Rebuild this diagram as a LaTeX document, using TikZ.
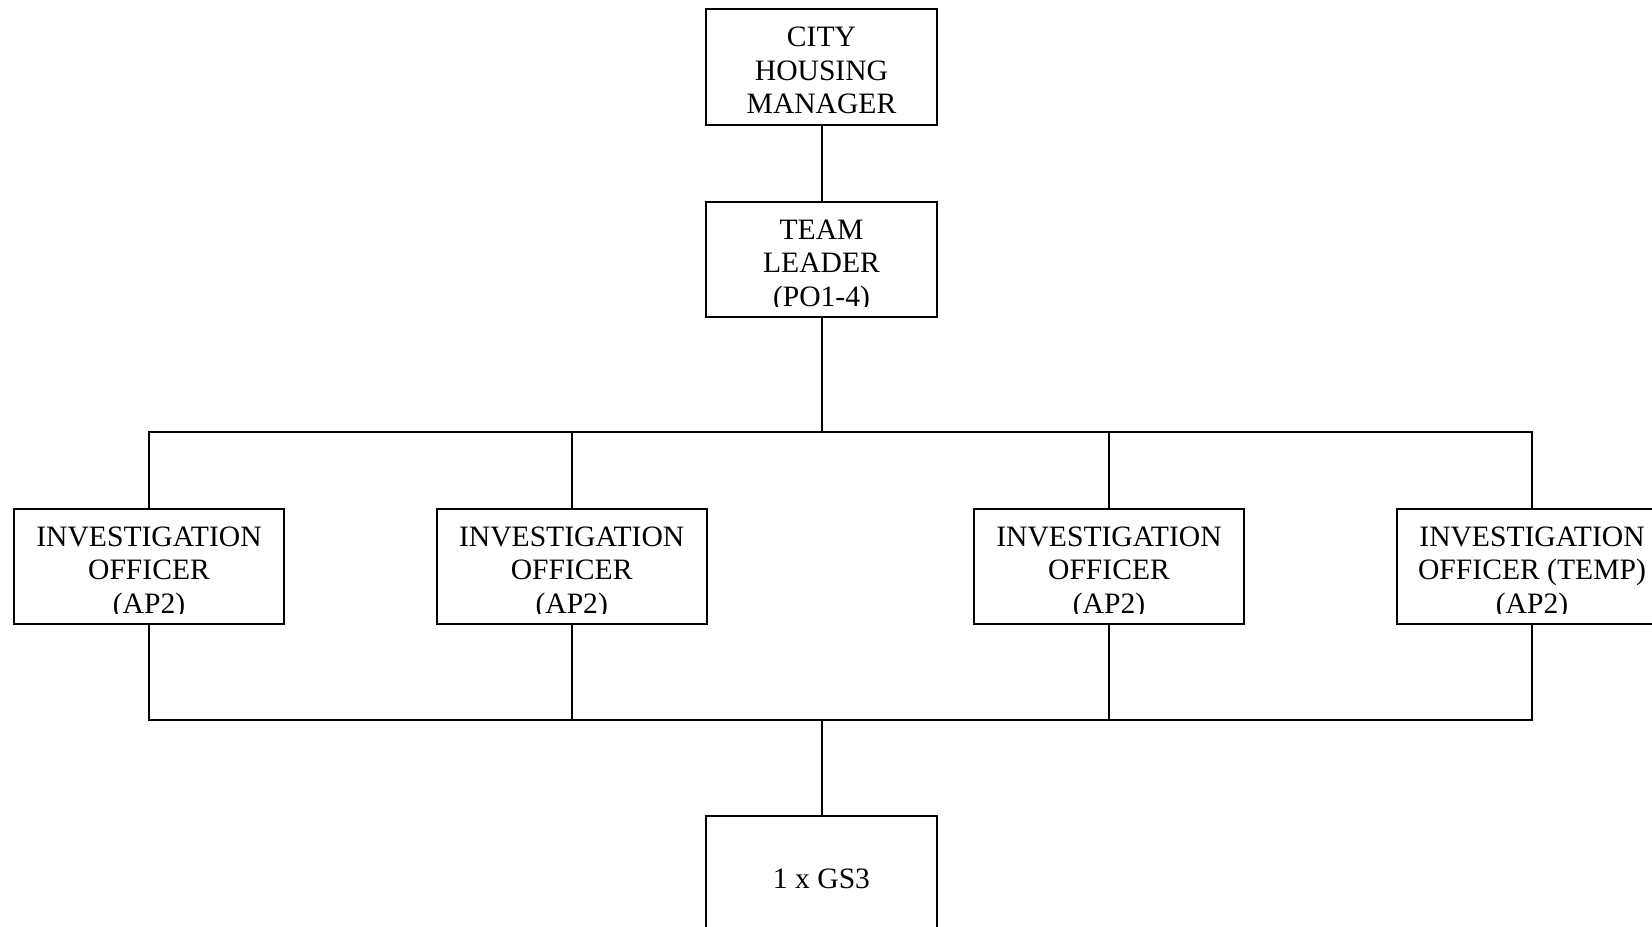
\documentclass[tikz,border=0pt]{standalone}
\usepackage{fontspec}
\setmainfont{Liberation Serif}
\usepackage{tikz}
\newcommand{\rolefont}{\fontsize{22.2pt}{25.1pt}\selectfont}
\tikzstyle{role}=[draw, inner sep=0, outer sep=0, align=center, minimum height=86.6pt]
\tikzstyle{arole}=[role, minimum width=173.25pt, text height=69.75pt, text depth=0pt]
\tikzstyle{orole}=[role, minimum width=202.5pt, text height=69.75pt, text depth=0pt]
\tikzstyle{lrole}=[role, minimum width=173.25pt, text height=21pt, text depth=0pt]
\tikzstyle{trim}=[fill=white, draw=none]
\tikzstyle{orgchart}=[x=0.75pt, y=-0.75pt, line width=1.5pt,
                      % Default font for every post.
                      every node/.style={font=\rolefont}]

\begin{document}
\begin{tikzpicture}[orgchart]
        \useasboundingbox (0, 0) rectangle (1652, 927);
        \node[arole] (chm) at (821.5, 67) {CITY\\HOUSING\\MANAGER};
        \node[arole] (tl) at (821.5, 259.5) {TEAM\\LEADER\\(PO1-4)};
        \node[orole] (io1) at (149, 566.5) {INVESTIGATION\\OFFICER\\(AP2)};
        \node[orole] (io2) at (571.7, 566.5) {INVESTIGATION\\OFFICER\\(AP2)};
        \node[orole] (io3) at (1109, 566.5) {INVESTIGATION\\OFFICER\\(AP2)};
        \node[orole] (io4) at (1532, 566.5) {INVESTIGATION\\OFFICER (TEMP)\\(AP2)};
        \node[lrole] (gs) at (821.5, 874) {1 x GS3};
        % Cut the last line off like the text boxes do.
        \fill[trim] ([shift={(1pt, 1pt)}]tl.south west) rectangle ([shift={(-1pt, 7.5pt)}]tl.south east);
        \fill[trim] ([shift={(1pt, 1pt)}]io1.south west) rectangle ([shift={(-1pt, 7.5pt)}]io1.south east);
        \fill[trim] ([shift={(1pt, 1pt)}]io2.south west) rectangle ([shift={(-1pt, 7.5pt)}]io2.south east);
        \fill[trim] ([shift={(1pt, 1pt)}]io3.south west) rectangle ([shift={(-1pt, 7.5pt)}]io3.south east);
        \fill[trim] ([shift={(1pt, 1pt)}]io4.south west) rectangle ([shift={(-1pt, 7.5pt)}]io4.south east);
        \coordinate (top) at (821.5, 432);
        \coordinate (bot) at (821.5, 720);
        \draw (chm) -- (tl);
        \draw (tl) -- (top);
        \draw (io1.north) -- (io1 |- top) -- (io4 |- top) -- (io4.north);
        \draw (io2.north) -- (io2 |- top);
        \draw (io3.north) -- (io3 |- top);
        \draw (io1.south) -- (io1 |- bot) -- (io4 |- bot) -- (io4.south);
        \draw (io2.south) -- (io2 |- bot);
        \draw (io3.south) -- (io3 |- bot);
        \draw (bot) -- (gs);
    \end{tikzpicture}
\end{document}
